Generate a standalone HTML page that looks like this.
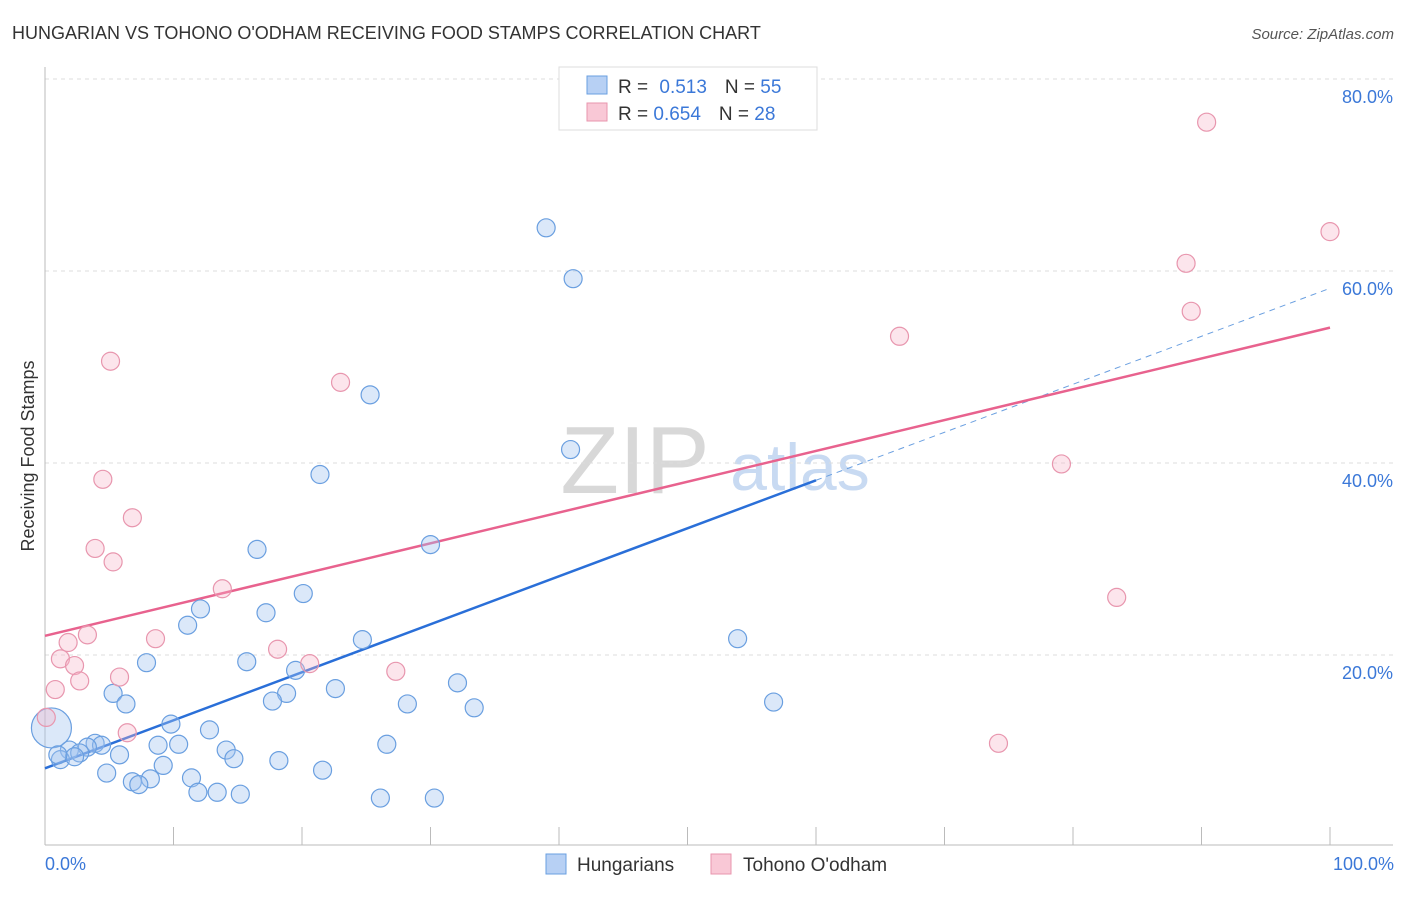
<!DOCTYPE html>
<html><head><meta charset="utf-8"><style>
body{margin:0;background:#fff;font-family:"Liberation Sans",sans-serif;}
svg text{font-family:"Liberation Sans",sans-serif;}
</style></head><body>
<svg id="chart" width="1406" height="892">
<text x="12" y="39" font-size="18" fill="#333">HUNGARIAN VS TOHONO O'ODHAM RECEIVING FOOD STAMPS CORRELATION CHART</text>
<text x="1394" y="39" font-size="15" fill="#555" text-anchor="end" font-style="italic">Source: ZipAtlas.com</text>
<text x="0" y="0" transform="translate(34,456) rotate(-90)" font-size="18" fill="#333" text-anchor="middle">Receiving Food Stamps</text>
<text x="635" y="493" font-size="96" fill="#d8d8d8" font-family="Liberation Serif" text-anchor="middle">ZIP</text>
<text x="800" y="490" font-size="66" fill="#c8daf2" text-anchor="middle">atlas</text>
<g id="grid"></g><g id="axes"></g><g id="lines"></g><g id="pts"></g>
<g>
<rect x="559" y="67" width="258" height="63" fill="#fff" stroke="#ddd"/>
<rect x="587" y="76" width="20" height="18" fill="#b7d0f4" stroke="#6a9fe0"/>
<rect x="587" y="103" width="20" height="18" fill="#f9c8d6" stroke="#e896ae"/>
<text x="618" y="93" font-size="19" fill="#333">R = <tspan fill="#3b78d8" dx="6">0.513</tspan><tspan dx="18" fill="#333">N = </tspan><tspan fill="#3b78d8">55</tspan></text>
<text x="618" y="120" font-size="19" fill="#333">R = <tspan fill="#3b78d8">0.654</tspan><tspan dx="18" fill="#333">N = </tspan><tspan fill="#3b78d8">28</tspan></text>
</g>
<g>
<rect x="546" y="854" width="20" height="20" fill="#b7d0f4" stroke="#6a9fe0"/>
<text x="577" y="871" font-size="19" fill="#333">Hungarians</text>
<rect x="711" y="854" width="20" height="20" fill="#f9c8d6" stroke="#e896ae"/>
<text x="743" y="871" font-size="19" fill="#333">Tohono O'odham</text>
</g>
<text x="45" y="870" font-size="18" fill="#3b78d8">0.0%</text>
<text x="1394" y="870" font-size="18" fill="#3b78d8" text-anchor="end">100.0%</text>
</svg>
<script>
const yTicks=[20,40,60,80];
const xTickVals=[0,10,20,30,40,50,60,70,80,90,100];
const blueX=[39.0,41.1,25.3,40.9,21.4,16.5,30.0,20.1,12.1,17.2,11.1,53.9,24.7,7.9,15.7,19.5,32.1,22.6,5.3,18.8,17.7,6.3,28.2,33.4,56.7,9.8,12.8,3.9,4.4,3.3,1.9,2.7,8.8,10.4,14.1,26.6,5.8,1.2,2.3,14.7,18.2,9.2,4.8,21.6,11.4,8.2,6.8,7.3,11.9,13.4,15.2,26.1,30.3,0.5,1.0];
const blueY=[64.5,59.2,47.1,41.4,38.8,31.0,31.5,26.4,24.8,24.4,23.1,21.7,21.6,19.2,19.3,18.4,17.1,16.5,16.0,16.0,15.2,14.9,14.9,14.5,15.1,12.8,12.2,10.8,10.6,10.4,10.1,9.8,10.6,10.7,10.1,10.7,9.6,9.1,9.4,9.2,9.0,8.5,7.7,8.0,7.2,7.1,6.8,6.5,5.7,5.7,5.5,5.1,5.1,12.4,9.6];
const pinkX=[90.4,100,88.8,89.2,66.5,5.1,23.0,79.1,4.5,6.8,3.9,5.3,13.8,83.4,3.3,8.6,1.8,18.1,1.2,20.6,2.3,2.7,5.8,27.3,0.8,6.4,74.2,0.1];
const pinkY=[75.5,64.1,60.8,55.8,53.2,50.6,48.4,39.9,38.3,34.3,31.1,29.7,26.9,26.0,22.1,21.7,21.3,20.6,19.6,19.1,18.9,17.3,17.7,18.3,16.4,11.9,10.8,13.5];
const blueFit=[8.2,0.5];
const pinkFit=[22.0,0.321];
const NS="http://www.w3.org/2000/svg";
const X=v=>45+v*12.85, Y=v=>847-v*9.6;
function mk(parent,tag,attrs){const e=document.createElementNS(NS,tag);for(const k in attrs)e.setAttribute(k,attrs[k]);document.getElementById(parent).appendChild(e);return e;}
yTicks.forEach(t=>{
  const g=mk('grid','line',{x1:45,x2:1393,y1:Y(t),y2:Y(t),stroke:'#ddd','stroke-dasharray':'4,4'});
  
  
  const l=mk('grid','text',{x:1393,y:Y(t)+24,'font-size':18,fill:'#3b78d8','text-anchor':'end'});
  l.textContent=t.toFixed(1)+'%';
  
  
});
mk('axes','line',{x1:45,x2:45,y1:67,y2:845,stroke:'#bbb'});
mk('axes','line',{x1:45,x2:1393,y1:845,y2:845,stroke:'#bbb'});
xTickVals.forEach(t=>{
  const e=mk('axes','line',{x1:X(t),x2:X(t),y1:827,y2:845,stroke:'#bbb'});
  
  
});
let e=mk('lines','line',{x1:X(0),y1:Y(blueFit[0]),x2:X(60),y2:Y(blueFit[0]+blueFit[1]*60),stroke:'#2a6fd8','stroke-width':2.5});


e=mk('lines','line',{x1:X(60),y1:Y(blueFit[0]+blueFit[1]*60),x2:X(100),y2:Y(blueFit[0]+blueFit[1]*100),stroke:'#6a9fe0','stroke-width':1,'stroke-dasharray':'6,5'});


e=mk('lines','line',{x1:X(0),y1:Y(pinkFit[0]),x2:X(100),y2:Y(pinkFit[0]+pinkFit[1]*100),stroke:'#e8628e','stroke-width':2.5});


blueX.forEach((x,i)=>{
  const c=mk('pts','circle',{cx:X(x),cy:Y(blueY[i]),r:(i==53?20:9),fill:'rgba(160,195,240,0.38)',stroke:'#6a9fe0','stroke-width':1.2});
  
  
});
pinkX.forEach((x,i)=>{
  const c=mk('pts','circle',{cx:X(x),cy:Y(pinkY[i]),r:9,fill:'rgba(245,180,200,0.35)',stroke:'#e896ae','stroke-width':1.2});
  
  
});
</script>
</body></html>
